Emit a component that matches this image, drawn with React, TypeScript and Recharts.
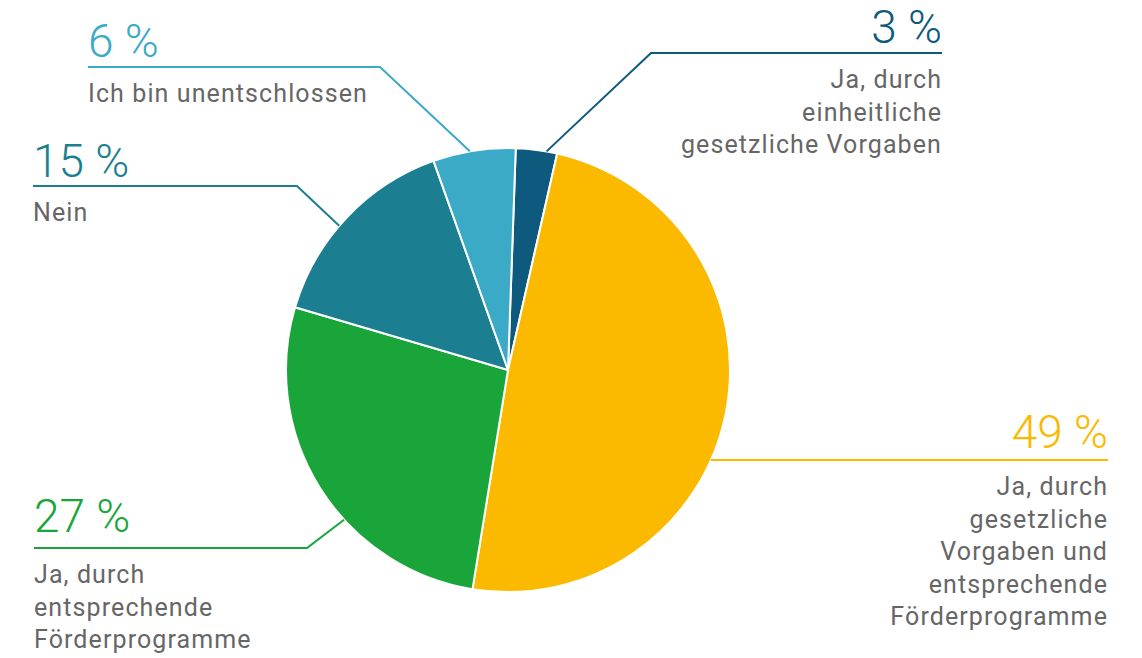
import React from 'react';
import { PieChart, Pie, Cell } from 'recharts';

const names = [
    'Ja, durch einheitliche gesetzliche Vorgaben',
    'Ja, durch gesetzliche Vorgaben und entsprechende Förderprogramme',
    'Ja, durch entsprechende Förderprogramme',
    'Nein',
    'Ich bin unentschlossen',
];
const values = [3, 49, 27, 15, 6];
const labelLines = [
    ['Ja, durch', 'einheitliche', 'gesetzliche Vorgaben'],
    ['Ja, durch', 'gesetzliche', 'Vorgaben und', 'entsprechende', 'Förderprogramme'],
    ['Ja, durch', 'entsprechende', 'Förderprogramme'],
    ['Nein'],
    ['Ich bin unentschlossen'],
];

const COLORS = ['#0e5a7e', '#fbb900', '#19a53a', '#1b7f91', '#3aaac7'];

// where each annotation sits (chart coords)
const LAYOUT = [
    { side: 'right', textX: 942, lineY: 53, elbowX: 651, edgeAngle: 80, pctGap: 10 },
    { side: 'right', textX: 1108, lineY: 460, elbowX: null, edgeAngle: -23.9, pctGap: 12 },
    { side: 'left', textX: 34, lineY: 548, elbowX: 307, edgeAngle: -137.6, pctGap: 16 },
    { side: 'left', textX: 33, lineY: 186, elbowX: 297, edgeAngle: 139.5, pctGap: 9 },
    { side: 'left', textX: 88, lineY: 67, elbowX: 380, edgeAngle: 99.9, pctGap: 10 },
];

const data = names.map((name, i) => ({ name, value: values[i] }));
const RAD = Math.PI / 180;

const renderLabel = (props: any) => {
    const { cx, cy, outerRadius, index } = props;
    const l = LAYOUT[index];
    const color = COLORS[index];
    const ex = cx + outerRadius * Math.cos(l.edgeAngle * RAD);
    const ey = cy - outerRadius * Math.sin(l.edgeAngle * RAD);
    const pts: number[][] = [[ex, ey]];
    if (l.elbowX !== null) pts.push([l.elbowX, l.lineY]);
    else pts[0] = [ex, l.lineY];
    pts.push([l.textX, l.lineY]);
    const anchor = l.side === 'right' ? 'end' : 'start';
    return (
        <g key={`lbl-${index}`}>
            <polyline
                points={pts.map((p) => p.join(',')).join(' ')}
                fill="none"
                stroke={color}
                strokeWidth={2}
            />
            <text
                x={l.textX}
                y={l.lineY - l.pctGap}
                textAnchor={anchor}
                fill={color}
                fontSize={46}
                fontWeight={300}
                fontFamily="Roboto"
            >
                {`${values[index]} %`}
            </text>
            {labelLines[index].map((t, j) => (
                <text
                    key={j}
                    x={l.textX}
                    y={l.lineY + 35 + j * 32.5}
                    textAnchor={anchor}
                    fill="#666666"
                    fontSize={25}
                    letterSpacing={1.1}
                    fontFamily="Roboto"
                >
                    {t}
                </text>
            ))}
        </g>
    );
};

export default function App() {
    return (
        <div style={{ position: 'absolute', left: 0, top: 0, background: '#fff' }}>
            <PieChart width={1142} height={658} margin={{ top: 0, right: 0, bottom: 0, left: 0 }}>
                <Pie
                    data={data}
                    dataKey="value"
                    nameKey="name"
                    cx={508}
                    cy={370}
                    outerRadius={222}
                    startAngle={88}
                    endAngle={-272}
                    stroke="#ffffff"
                    strokeWidth={2}
                    label={renderLabel}
                    labelLine={false}
                    isAnimationActive={false}
                >
                    {data.map((_, i) => (
                        <Cell key={`cell-${i}`} fill={COLORS[i]} />
                    ))}
                </Pie>
            </PieChart>
        </div>
    );
}
